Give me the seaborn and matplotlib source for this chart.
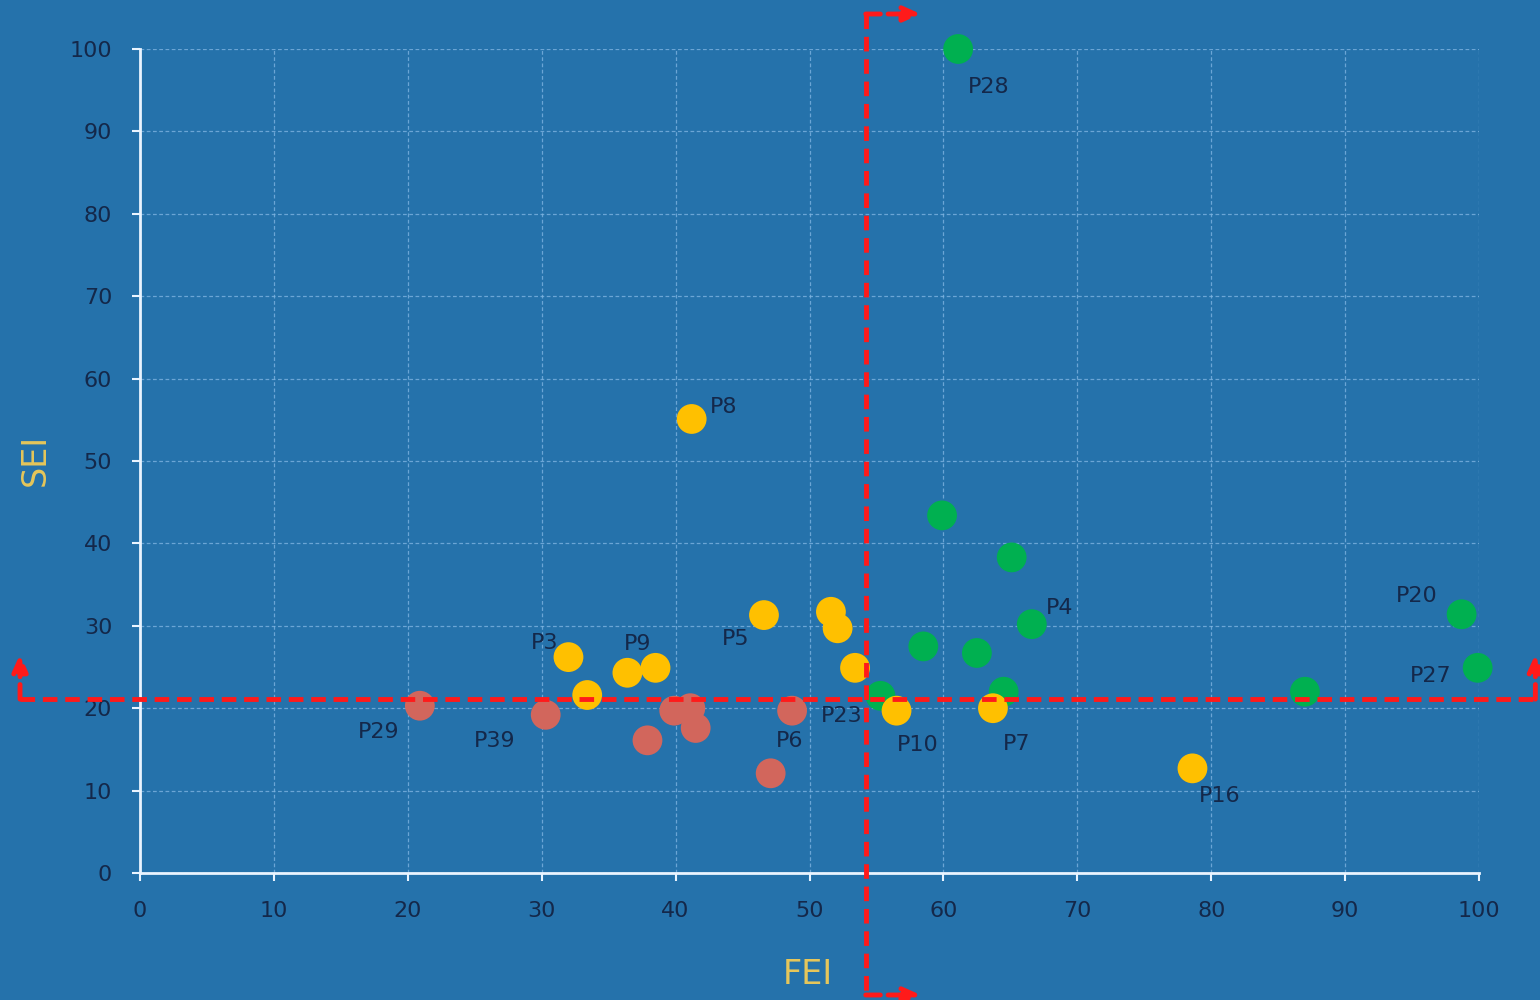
"""
FEI vs SEI scatter with quadrant threshold lines.
"""
import pandas as pd
import matplotlib.pyplot as plt
import matplotlib.transforms as mtransforms
import seaborn as sns

# point values
names = ["P28", "G2", "G3", "P4", "G5", "G6", "G7", "G8", "G9", "P20", "P27",
         "P8", "P3", "Y3", "Y4", "P9", "P5", "Y7", "Y8", "P23", "P10", "P7", "P16",
         "P29", "P39", "R3", "R4", "R5", "R6", "R7", "P6"]
fei = [61.1, 59.9, 65.1, 66.6, 58.5, 62.5, 64.5, 55.3, 87.0, 98.7, 99.9,
       41.2, 32.0, 33.4, 36.4, 38.5, 46.6, 51.6, 52.1, 53.4, 56.5, 63.7, 78.6,
       20.9, 30.3, 37.9, 39.9, 41.1, 41.5, 47.1, 48.7]
sei = [100.0, 43.4, 38.3, 30.2, 27.5, 26.7, 22.0, 21.5, 22.0, 31.4, 24.9,
       55.1, 26.2, 21.6, 24.3, 24.9, 31.3, 31.7, 29.7, 24.9, 19.7, 20.0, 12.7,
       20.3, 19.2, 16.1, 19.7, 20.0, 17.6, 12.1, 19.7]
group = ["green"] * 11 + ["yellow"] * 12 + ["red"] * 8

# which points carry a label, and where the label sits (offset in pixels)
label_pos = {
    "P28": (10, -44), "P4": (14, 10), "P20": (-66, 12), "P27": (-68, -14),
    "P8": (18, 6), "P3": (-38, 8), "P9": (-32, 18), "P5": (-42, -30),
    "P23": (-34, -54), "P10": (0, -40), "P7": (10, -42), "P16": (6, -34),
    "P29": (-62, -32), "P39": (-72, -32), "P6": (-16, -36),
}

fei_cut = 54.2
sei_cut = 21.1

palette = {"green": "#00B050", "yellow": "#FFC000", "red": "#D2665C"}
bg = "#2572AB"
tick_col = "#14284A"
axis_title_col = "#E6C65A"

df = pd.DataFrame({"name": names, "FEI": fei, "SEI": sei, "group": group})

fig = plt.figure(figsize=(15.4, 10), dpi=100, facecolor=bg)
ax = fig.add_axes([0.0909, 0.127, 0.8695, 0.824])
ax.set_facecolor(bg)

sns.scatterplot(data=df, x="FEI", y="SEI", hue="group", palette=palette,
                s=460, edgecolor="none", legend=False, ax=ax, zorder=3,
                clip_on=False)
ax.set_xlabel("")
ax.set_ylabel("")

for _, row in df.iterrows():
    if row["name"] in label_pos:
        ax.annotate(row["name"], (row["FEI"], row["SEI"]),
                    xytext=label_pos[row["name"]], textcoords="offset pixels",
                    color=tick_col, fontsize=16, zorder=4)

ax.set_xlim(0, 100)
ax.set_ylim(0, 100)
ax.set_xticks(range(0, 101, 10))
ax.set_yticks(range(0, 101, 10))
ax.grid(True, color="#7DB3E0", linestyle=(0, (3, 2)), linewidth=0.9, alpha=0.8)
ax.set_axisbelow(True)
for side in ["top", "right"]:
    ax.spines[side].set_visible(False)
for side in ["left", "bottom"]:
    ax.spines[side].set_color("#EAF4FF")
    ax.spines[side].set_linewidth(2)
ax.tick_params(colors="#EAF4FF", labelcolor=tick_col, labelsize=16,
               length=6, width=1.5, pad=14)

fig.text(808 / 1540, 1 - 975 / 1000, "FEI", color=axis_title_col, fontsize=24,
         ha="center", va="center")
fig.text(35 / 1540, 1 - 460 / 1000, "SEI", color=axis_title_col, fontsize=24,
         ha="center", va="center", rotation=90)

# red threshold lines, running past the axes edges with arrow heads
red = "#FF1A1A"
vt = mtransforms.blended_transform_factory(ax.transData, fig.transFigure)
ht = mtransforms.blended_transform_factory(fig.transFigure, ax.transData)
ax.plot([fei_cut, fei_cut], [0.986, 0.005], transform=vt, color=red, lw=3.5,
        ls=(0, (3, 1.6)), clip_on=False, zorder=5)
ax.plot([0.013, 0.997], [sei_cut, sei_cut], transform=ht, color=red, lw=3.5,
        ls=(0, (3, 1.6)), clip_on=False, zorder=5)

arrow_kw = dict(arrowstyle="-|>,head_length=1.0,head_width=0.45", color=red,
                lw=3.5, linestyle=(0, (3, 1.6)), shrinkA=0, shrinkB=0)
x0 = vt.transform((fei_cut, 0))[0]
for fy in [0.986, 0.005]:
    ax.annotate("", xy=(x0 + 55, fy * 1000), xytext=(x0, fy * 1000),
                xycoords="figure pixels", textcoords="figure pixels",
                arrowprops=arrow_kw, annotation_clip=False, zorder=5)
y0 = ht.transform((0, sei_cut))[1]
for fx in [0.013, 0.997]:
    ax.annotate("", xy=(fx * 1540, y0 + 45), xytext=(fx * 1540, y0),
                xycoords="figure pixels", textcoords="figure pixels",
                arrowprops=arrow_kw, annotation_clip=False, zorder=5)

fig.savefig("out.png", dpi=100, facecolor=bg)
